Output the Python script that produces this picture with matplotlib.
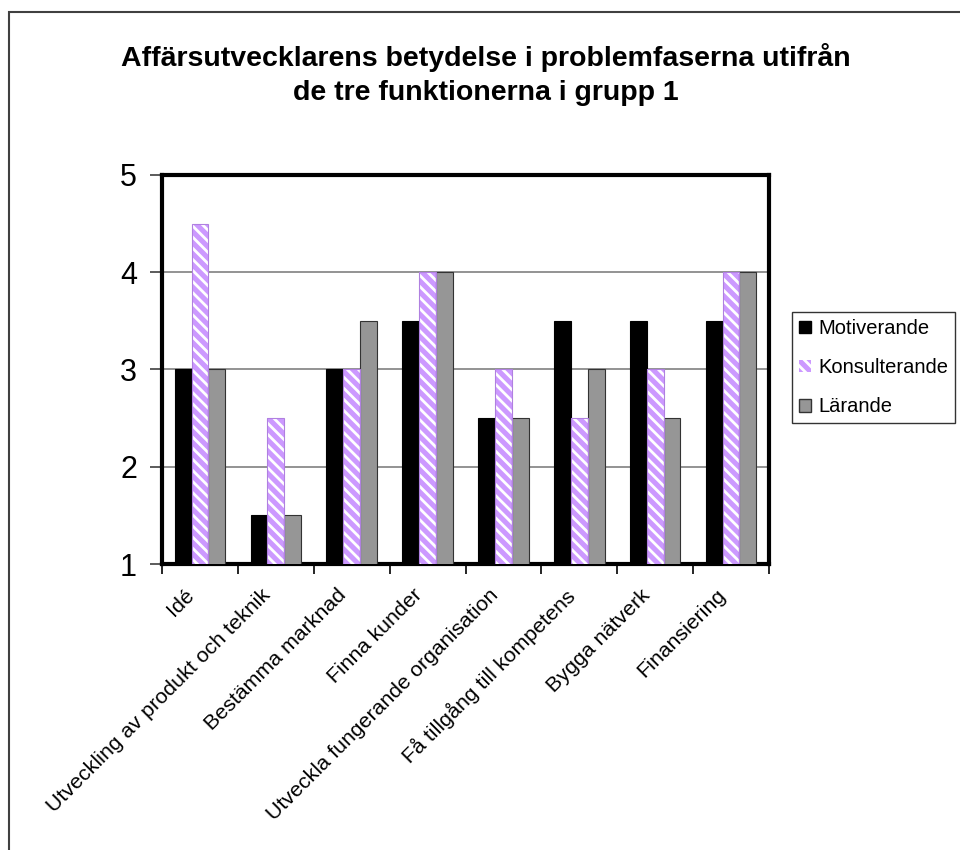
import matplotlib
matplotlib.use("Agg")
import matplotlib.pyplot as plt
import matplotlib.patches as mpatches
import numpy as np

plt.rcParams['font.family'] = ['Liberation Sans', 'DejaVu Sans']
plt.rcParams['hatch.linewidth'] = 2.0

categories = ["Idé", "Utveckling av produkt och teknik", "Bestämma marknad",
              "Finna kunder", "Utveckla fungerande organisation",
              "Få tillgång till kompetens", "Bygga nätverk", "Finansiering"]
motiverande = [3, 1.5, 3, 3.5, 2.5, 3.5, 3.5, 3.5]
konsulterande = [4.5, 2.5, 3, 4, 3, 2.5, 3, 4]
larande = [3, 1.5, 3.5, 4, 2.5, 3, 2.5, 4]
series_names = ["Motiverande", "Konsulterande", "Lärande"]
y_ticks = [1, 2, 3, 4, 5]

W, H = 960, 850
fig = plt.figure(figsize=(W / 100, H / 100), dpi=100)
ax = fig.add_axes([162 / W, 1 - 564 / H, (769 - 162) / W, (564 - 175) / H])

x = np.arange(len(categories))
bw = 1 / 4.5
purple = '#CC99FF'

ax.bar(x - bw, motiverande, bw, color='black', edgecolor='black', linewidth=0.8, zorder=3)
# hatched purple bars: white stripes over purple, then outline
ax.bar(x, konsulterande, bw, color=purple, edgecolor='white', hatch='\\\\\\', linewidth=0, zorder=3)
ax.bar(x, konsulterande, bw, fill=False, edgecolor='#B080E0', linewidth=0.8, zorder=4)
ax.bar(x + bw, larande, bw, color='#969696', edgecolor='#333333', linewidth=0.8, zorder=3)

ax.set_xlim(-0.5, len(categories) - 0.5)
ax.set_ylim(1, 5)
ax.set_yticks(y_ticks)
ax.set_yticklabels([str(v) for v in y_ticks], fontsize=22)
ax.yaxis.grid(True, color='#808080', linewidth=1.2, zorder=0)
ax.set_axisbelow(True)

ax.set_xticks(np.arange(len(categories) + 1) - 0.5, minor=False)
ax.set_xticklabels([])
ax.tick_params(axis='x', length=7, width=1.2, color='black', direction='out')
ax.tick_params(axis='y', length=9, width=1.2, color='#404040', direction='out', pad=9)
for i, lab in enumerate(categories):
    ax.text(i - 0.2, -0.055, lab, transform=ax.get_xaxis_transform(), rotation=45,
            ha='right', va='top', rotation_mode='anchor', fontsize=15.4)

for s in ax.spines.values():
    s.set_linewidth(3)
    s.set_color('black')

handles = [mpatches.Patch(facecolor='black', edgecolor='black'),
           mpatches.Patch(facecolor=purple, edgecolor='white', hatch='\\\\\\', linewidth=0),
           mpatches.Patch(facecolor='#969696', edgecolor='#333333')]
leg = fig.legend(handles, series_names, loc='upper left',
                 bbox_to_anchor=(792 / W, 1 - 312 / H), fontsize=14.5,
                 frameon=True, fancybox=False, shadow=False, handlelength=0.6,
                 handleheight=0.6, handletextpad=0.35, borderpad=0.35, labelspacing=1.0,
                 borderaxespad=0)
leg.get_frame().set_edgecolor('black')
leg.get_frame().set_linewidth(1.0)

fig.text(486 / W, 1 - 58 / H, "Affärsutvecklarens betydelse i problemfaserna utifrån",
         ha='center', va='center', fontsize=20.5, fontweight='bold')
fig.text(486 / W, 1 - 93 / H, "de tre funktionerna i grupp 1",
         ha='center', va='center', fontsize=20.5, fontweight='bold')

fig.patches.append(mpatches.Rectangle((9 / W, -0.1), 1.2, 1.1 - 12 / H, transform=fig.transFigure,
                                      fill=False, edgecolor='#404040', linewidth=1.5))

fig.savefig('out.png', dpi=100, facecolor='white')
